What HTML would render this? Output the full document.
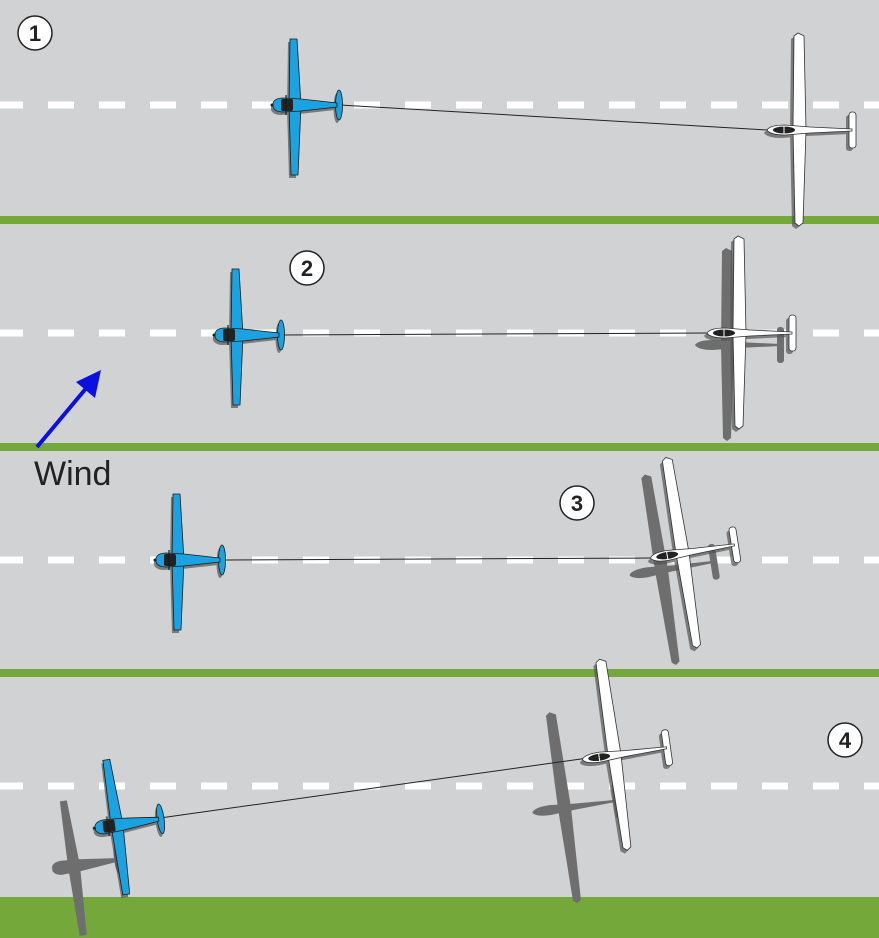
<!DOCTYPE html>
<html><head><meta charset="utf-8"><style>
html,body{margin:0;padding:0;background:#d1d2d4;}
svg{display:block}
</style></head><body>
<svg width="879" height="938" viewBox="0 0 879 938" xmlns="http://www.w3.org/2000/svg">
<defs>
<g id="towS">
  <polygon points="-5,-66 2,-66 6,0 3,70 -4,70 -6,0"/>
  <path d="M-22,-2 Q-20,-7 -12,-7 L6,-6 L42,-2 L42,2 L6,6 L-12,7 Q-20,7 -22,2 Z"/>
  <ellipse cx="44" cy="0" rx="3.5" ry="15"/>
</g>
<g id="tow">
  <use href="#towS" fill="#555" transform="translate(-2,3)" opacity="0.7"/>
  <g fill="#1aa3e0" stroke="#1b1b1b" stroke-width="0.8">
    <polygon points="-5,-66 2,-66 6,0 3,70 -4,70 -6,0"/>
    <ellipse cx="44" cy="0" rx="3.5" ry="15"/>
    <path d="M-22,-2 Q-20,-7 -12,-7 L6,-6 L42,-2 L42,2 L6,6 L-12,7 Q-20,7 -22,2 Z"/>
  </g>
  <rect x="-14" y="-6" width="12" height="12" rx="2" fill="#222"/>
  <rect x="-10" y="-10" width="2" height="20" fill="#1b1b1b" opacity="0.6"/>
  <circle cx="-23" cy="0" r="1.5" fill="#222"/>
</g>
<g id="gliS">
  <polygon points="-6,-94 -2,-97 4,-94 6,0 3,93 -1,96 -5,93 -7,0"/>
  <path d="M-33,0 Q-30,-5 -15,-5 L10,-3 L52,-1 L52,1 L10,3 L-15,5 Q-30,5 -33,0Z"/>
  <rect x="49" y="-18" width="7" height="36" rx="3"/>
</g>
<g id="gli">
  <use href="#gliS" fill="#555" transform="translate(-3,3)" opacity="0.7"/>
  <g fill="#fff" stroke="#333" stroke-width="0.8">
    <polygon points="-6,-94 -2,-97 4,-94 6,0 3,93 -1,96 -5,93 -7,0"/>
    <rect x="49" y="-18" width="7" height="36" rx="3"/>
    <path d="M-33,0 Q-30,-5 -15,-5 L10,-3 L52,-1 L52,1 L10,3 L-15,5 Q-30,5 -33,0Z"/>
  </g>
  <ellipse cx="-16" cy="0" rx="11" ry="3.5" fill="#222"/>
  <line x1="-16" y1="-4" x2="-16" y2="4" stroke="#fff" stroke-width="1"/>
</g>
</defs>
<rect width="879" height="938" fill="#d1d2d4"/>
<g fill="#74a83a">
  <rect x="0" y="216" width="879" height="8"/>
  <rect x="0" y="443" width="879" height="8"/>
  <rect x="0" y="669" width="879" height="8"/>
  <rect x="0" y="897" width="879" height="41"/>
</g>
<g stroke="#fff" stroke-width="7" stroke-dasharray="26 25" stroke-dashoffset="3">
  <line x1="0" y1="105" x2="879" y2="105"/>
  <line x1="0" y1="333" x2="879" y2="333"/>
  <line x1="0" y1="560" x2="879" y2="560"/>
  <line x1="0" y1="786" x2="879" y2="786"/>
</g>
<g fill="#6e6e6e">
  <use href="#gliS" transform="translate(728,345)"/>
  <use href="#gliS" transform="translate(662,570) rotate(-9)"/>
  <use href="#gliS" transform="translate(565,808) rotate(-8)"/>
  <use href="#towS" transform="translate(74,866) rotate(-8)"/>
</g>
<g stroke="#222" stroke-width="1">
  <line x1="340" y1="105" x2="767" y2="130"/>
  <line x1="282" y1="335" x2="707" y2="333"/>
  <line x1="224" y1="560" x2="650" y2="558"/>
  <line x1="160" y1="818" x2="588" y2="758"/>
</g>
<use href="#tow" transform="translate(295,105)"/>
<use href="#gli" transform="translate(800,130)"/>
<use href="#tow" transform="translate(237,335)"/>
<use href="#gli" transform="translate(740,333)"/>
<use href="#tow" transform="translate(178,560)"/>
<use href="#gli" transform="translate(683,553) rotate(-9)"/>
<use href="#tow" transform="translate(117,825) rotate(-8)"/>
<use href="#gli" transform="translate(615,755) rotate(-8)"/>
<g font-family="Liberation Sans, sans-serif" font-weight="bold" font-size="22" text-anchor="middle" fill="#222">
  <circle cx="35" cy="33" r="17" fill="#fff" stroke="#222" stroke-width="1.5"/><text x="35" y="41">1</text>
  <circle cx="307" cy="268" r="17" fill="#fff" stroke="#222" stroke-width="1.5"/><text x="307" y="276">2</text>
  <circle cx="577" cy="503" r="17" fill="#fff" stroke="#222" stroke-width="1.5"/><text x="577" y="511">3</text>
  <circle cx="845" cy="740" r="17" fill="#fff" stroke="#222" stroke-width="1.5"/><text x="845" y="748">4</text>
</g>
<line x1="37" y1="447" x2="88" y2="386" stroke="#0a10e0" stroke-width="4"/>
<polygon points="101,370 95,398 76,382" fill="#0a10e0"/>
<text x="34" y="485" font-family="Liberation Sans, sans-serif" font-size="34" fill="#222">Wind</text>
</svg>
</body></html>
